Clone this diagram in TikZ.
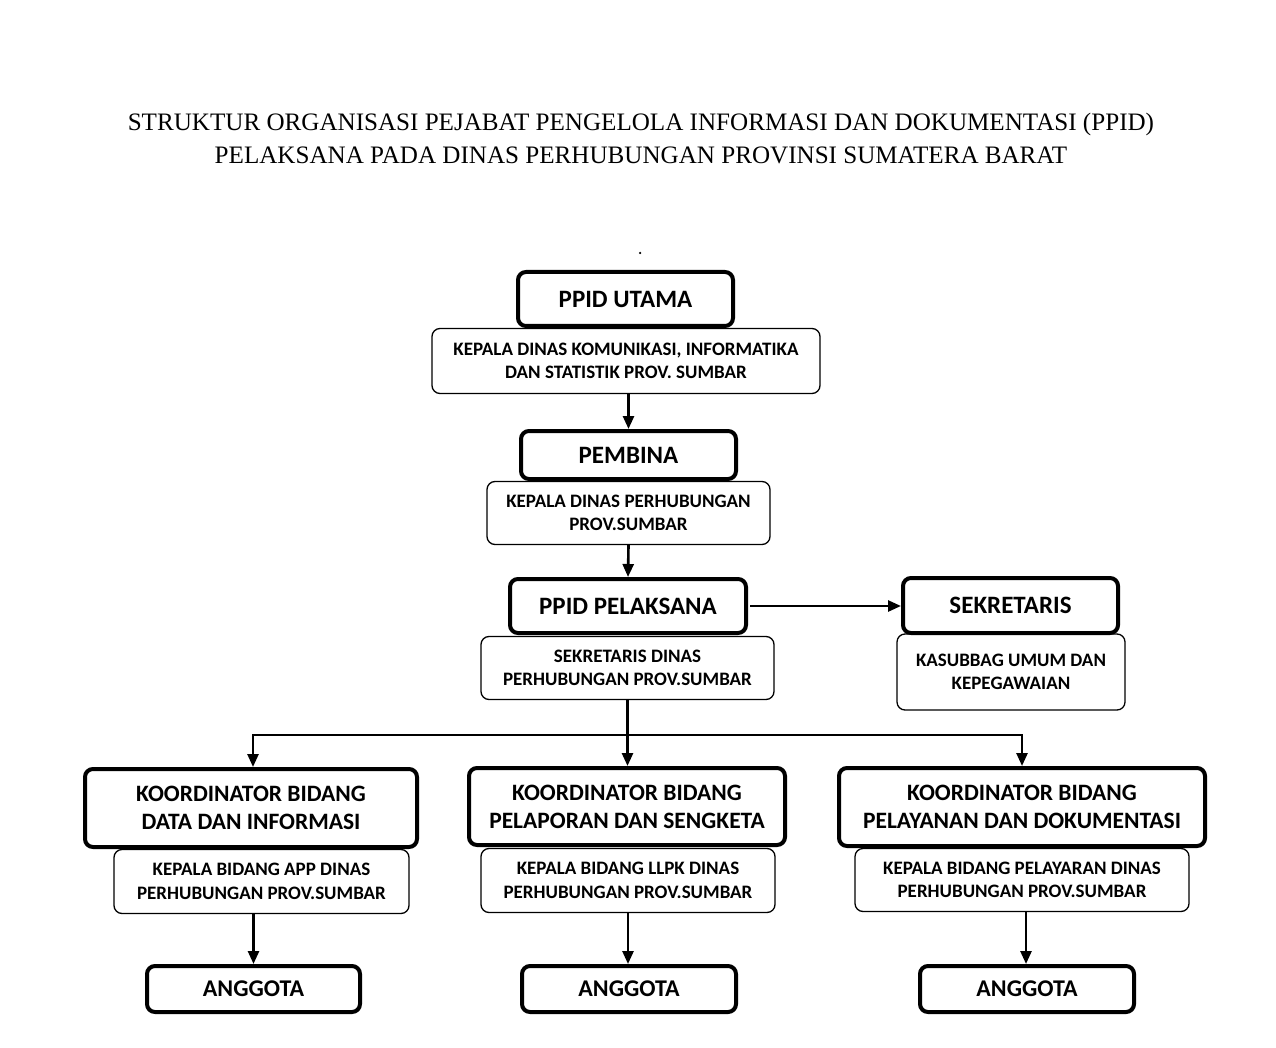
\documentclass[tikz,border=0pt]{standalone}
\usepackage{fontspec}
\setmainfont{Carlito}
\newfontfamily\titlefont{Liberation Serif}
\usetikzlibrary{arrows.meta,calc}
\begin{document}
\begin{tikzpicture}[x=1pt,y=-1pt,
  headbox/.style={draw,line width=4pt,rounded corners=8pt,align=center,
    font=\fontsize{25}{29}\selectfont\bfseries,inner sep=0pt},
  koordbox/.style={headbox,font=\fontsize{23.5}{28}\selectfont\bfseries},
  angbox/.style={headbox,font=\fontsize{24}{28}\selectfont\bfseries},
  subbox/.style={draw,line width=1.3pt,rounded corners=8pt,align=center,fill=white,
    font=\fontsize{19}{23.5}\selectfont\bfseries,inner sep=0pt},
  conn/.style={line width=2.6pt,-{Triangle[length=13pt,width=11pt]}}]
\useasboundingbox (0,0) rectangle (1276,1048);
\fill[white] (0,0) rectangle (1276,1048);
% title
\node[font=\titlefont\fontsize{25.1}{33}\selectfont,align=center] (title) at (641,138)
  {STRUKTUR ORGANISASI PEJABAT PENGELOLA INFORMASI DAN DOKUMENTASI (PPID)\\
   PELAKSANA PADA DINAS PERHUBUNGAN PROVINSI SUMATERA BARAT};
\node[circle,fill=black,inner sep=0pt,minimum size=2.5pt] (dot) at (640,253) {};
% boxes
\node[subbox,minimum width=388,minimum height=65] (sub1) at (626,361)
  {KEPALA DINAS KOMUNIKASI, INFORMATIKA\\DAN STATISTIK PROV. SUMBAR};
\node[headbox,fill=white,minimum width=215,minimum height=54] (utama) at (625.5,299) {PPID UTAMA};
\node[subbox,minimum width=283,minimum height=63] (sub2) at (628.5,513)
  {KEPALA DINAS PERHUBUNGAN\\PROV.SUMBAR};
\node[headbox,fill=white,minimum width=215,minimum height=48] (pembina) at (628.5,455) {PEMBINA};
\node[subbox,minimum width=293,minimum height=63] (sub3) at (627.5,668)
  {SEKRETARIS DINAS\\PERHUBUNGAN PROV.SUMBAR};
\node[headbox,fill=white,minimum width=236,minimum height=54] (pelaksana) at (628,606) {PPID PELAKSANA};
\node[subbox,minimum width=228,minimum height=76] (sub4) at (1011,672)
  {KASUBBAG UMUM DAN\\KEPEGAWAIAN};
\node[headbox,fill=white,minimum width=215,minimum height=55] (sekretaris) at (1010.5,605.5) {SEKRETARIS};
\node[subbox,minimum width=295,minimum height=64] (sub5) at (261.5,881.5)
  {KEPALA BIDANG APP DINAS\\PERHUBUNGAN PROV.SUMBAR};
\node[koordbox,fill=white,minimum width=332,minimum height=78] (koord1) at (251,808)
  {KOORDINATOR BIDANG\\DATA DAN INFORMASI};
\node[subbox,minimum width=294,minimum height=64] (sub6) at (628,880.5)
  {KEPALA BIDANG LLPK DINAS\\PERHUBUNGAN PROV.SUMBAR};
\node[koordbox,fill=white,minimum width=316,minimum height=77] (koord2) at (627,806.5)
  {KOORDINATOR BIDANG\\PELAPORAN DAN SENGKETA};
\node[subbox,minimum width=334,minimum height=63] (sub7) at (1022,880)
  {KEPALA BIDANG PELAYARAN DINAS\\PERHUBUNGAN PROV.SUMBAR};
\node[koordbox,fill=white,minimum width=366,minimum height=78] (koord3) at (1022,807)
  {KOORDINATOR BIDANG\\PELAYANAN DAN DOKUMENTASI};
\node[angbox,minimum width=213,minimum height=46] (ang1) at (253.5,989) {ANGGOTA};
\node[angbox,minimum width=214,minimum height=46] (ang2) at (629,989) {ANGGOTA};
\node[angbox,minimum width=214,minimum height=46] (ang3) at (1027,989) {ANGGOTA};
% connectors
\draw[conn] (sub1.south -| pembina.north) -- (pembina.north);
\draw[conn] (sub2.south) -- (pelaksana.north);
\draw[conn] ($(pelaksana.east)+(2,0)$) -- (pelaksana.east -| sekretaris.west);
\coordinate (hub) at (628,735);
\draw[conn] (sub3.south) -- (sub3.south |- koord2.north);
\draw[conn] (hub) -| ([xshift=2pt]koord1.north);
\draw[conn] (hub) -| (koord3.north);
\draw[conn] (ang1.north |- sub5.south) -- (ang1.north);
\draw[conn] (sub6.south) -- (sub6.south |- ang2.north);
\draw[conn] ([xshift=4pt]sub7.south) -- ([xshift=4pt]sub7.south |- ang3.north);
\end{tikzpicture}
\end{document}
